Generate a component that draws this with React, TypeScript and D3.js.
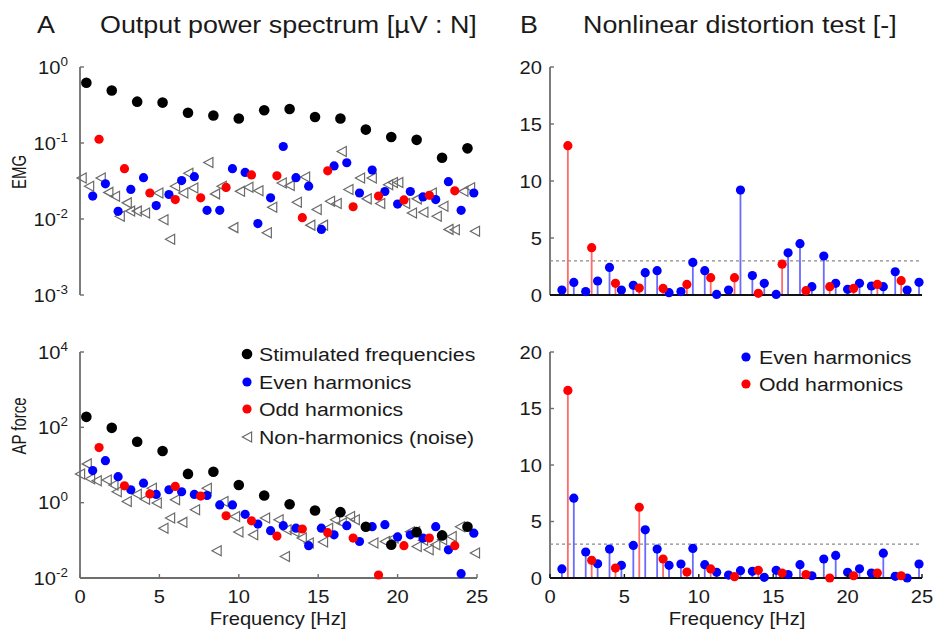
import React from "react";
import * as d3 from "d3";

// ---------- data ----------
const stimFreqs = [0.4, 2.0, 3.6, 5.2, 6.8, 8.4, 10.0, 11.6, 13.2, 14.8, 16.4, 18.0, 19.6, 21.2, 22.8, 24.4];
const evenFreqs = [0.8, 1.6, 2.4, 3.2, 4.0, 4.8, 5.6, 6.4, 7.2, 8.0, 8.8, 9.6, 10.4, 11.2, 12.0, 12.8, 13.6, 14.4, 15.2, 16.0, 16.8, 17.6, 18.4, 19.2, 20.0, 20.8, 21.6, 22.4, 23.2, 24.0, 24.8];
const oddFreqs = [1.2, 2.8, 4.4, 6.0, 7.6, 9.2, 10.8, 12.4, 14.0, 15.6, 17.2, 18.8, 20.4, 22.0, 23.6];

// EMG output power spectrum
const emgStim = [0.62, 0.49, 0.35, 0.34, 0.25, 0.23, 0.21, 0.27, 0.28, 0.22, 0.21, 0.15, 0.12, 0.11, 0.064, 0.085];
const emgEven = [0.020, 0.029, 0.0126, 0.0245, 0.035, 0.015, 0.021, 0.032, 0.036, 0.013, 0.013, 0.046, 0.041, 0.0087, 0.019, 0.090, 0.035, 0.027, 0.0073, 0.050, 0.055, 0.022, 0.044, 0.023, 0.0157, 0.023, 0.0195, 0.018, 0.031, 0.013, 0.022];
const emgOdd = [0.112, 0.046, 0.022, 0.018, 0.019, 0.026, 0.038, 0.037, 0.0104, 0.043, 0.0145, 0.020, 0.0178, 0.0205, 0.0235];
const emgNoiseFreq = [0.1, 0.57, 1.3, 1.78, 2.2, 2.5, 2.94, 3.15, 3.57, 4.09, 4.93, 5.25, 5.67, 5.98, 6.5, 6.82, 7.13, 8.08, 8.5, 8.92, 9.65, 10.07, 10.6, 11.23, 11.76, 12.1, 12.7, 13.2, 13.65, 14.17, 14.5, 14.9, 15.3, 15.74, 16.16, 16.48, 16.9, 17.63, 18.05, 18.37, 18.9, 19.4, 19.7, 20.04, 20.47, 20.9, 21.2, 21.62, 22.15, 22.46, 22.88, 23.2, 23.6, 24.14, 24.56, 24.87];
const emgNoise = [0.0347, 0.0269, 0.0347, 0.0224, 0.0199, 0.0109, 0.0163, 0.0127, 0.0127, 0.012, 0.022, 0.0098, 0.0054, 0.027, 0.022, 0.040, 0.0256, 0.0555, 0.0214, 0.027, 0.0077, 0.0231, 0.0262, 0.0236, 0.0066, 0.0143, 0.0298, 0.0275, 0.0166, 0.0357, 0.0083, 0.0133, 0.0083, 0.0171, 0.016, 0.0774, 0.0244, 0.0347, 0.0184, 0.0347, 0.016, 0.0283, 0.0303, 0.0303, 0.016, 0.012, 0.0184, 0.0123, 0.022, 0.0109, 0.0147, 0.0073, 0.0072, 0.0231, 0.0257, 0.0069];

// AP force output power spectrum
const forceStim = [190, 97, 41.5, 23.5, 5.8, 6.6, 2.95, 1.55, 0.91, 0.62, 0.56, 0.23, 0.076, 0.165, 0.135, 0.23];
const forceEven = [7.1, 13, 4.9, 2.2, 3.3, 1.65, 2.2, 1.95, 1.65, 1.55, 0.87, 0.87, 0.49, 0.27, 0.18, 0.245, 0.21, 0.072, 0.21, 0.14, 0.245, 0.093, 0.23, 0.26, 0.123, 0.14, 0.115, 0.23, 0.056, 0.013, 0.155];
const forceOdd = [29, 2.8, 1.7, 2.7, 1.5, 0.45, 0.33, 0.13, 0.20, 0.16, 0.115, 0.012, 0.072, 0.115, 0.072];
const forceNoiseFreq = [0.0, 0.42, 0.63, 1.05, 1.68, 2.1, 2.31, 2.94, 3.57, 4.09, 4.52, 4.83, 5.25, 5.67, 5.98, 6.44, 7.24, 7.98, 8.6, 9.03, 9.76, 9.97, 10.9, 11.65, 12.5, 12.9, 13.0, 13.5, 13.96, 14.4, 15.3, 15.62, 16.06, 16.48, 17.0, 17.3, 18.47, 19.2, 19.74, 20.78, 21.1, 21.2, 21.6, 21.95, 22.37, 22.8, 23.4, 23.93, 24.87];
const forceNoise = [5.8, 10.7, 4.3, 3.8, 4.0, 2.95, 1.95, 1.07, 1.68, 1.23, 2.4, 0.98, 0.21, 0.39, 1.19, 0.30, 0.65, 2.4, 0.053, 1.07, 0.43, 0.166, 0.14, 0.39, 0.35, 0.037, 0.19, 0.17, 0.115, 0.085, 0.09, 0.21, 0.35, 0.29, 0.43, 0.35, 0.085, 0.093, 0.115, 0.17, 0.17, 0.069, 0.10, 0.056, 0.076, 0.104, 0.126, 0.23, 0.046];

// Nonlinear distortion test
const nlEmgEven = [0.44, 1.1, 0.3, 1.23, 2.42, 0.44, 0.85, 1.96, 2.13, 0.2, 0.3, 2.86, 2.13, 0.05, 0.44, 9.2, 1.7, 1.02, 0.05, 3.7, 4.5, 0.73, 3.42, 1.02, 0.5, 1.02, 0.79, 0.73, 2.04, 0.44, 1.11];
const nlEmgOdd = [13.1, 4.15, 1.02, 0.61, 0.58, 0.93, 1.52, 1.52, 0.15, 2.7, 0.38, 0.73, 0.58, 0.93, 1.26];
const nlForceEven = [0.8, 7.06, 2.3, 1.26, 2.56, 1.12, 2.88, 4.26, 2.56, 1.12, 1.24, 2.62, 1.18, 0.5, 0.26, 0.65, 0.59, 0.06, 0.68, 0.3, 1.18, 0.2, 1.68, 2.0, 0.5, 0.82, 0.44, 2.2, 0.15, 0.0, 1.24];
const nlForceOdd = [16.6, 1.56, 0.88, 6.26, 1.68, 0.53, 0.8, 0.12, 0.68, 0.44, 0.3, 0.0, 0.2, 0.44, 0.2];
const nlThreshold = 3;

const freqTicks = [0, 5, 10, 15, 20, 25];
const nlTicks = [0, 5, 10, 15, 20];
const emgTicks = [-3, -2, -1, 0];
const forceTicks = [-2, 0, 2, 4];

const legendLeft = ["Stimulated frequencies", "Even harmonics", "Odd harmonics", "Non-harmonics (noise)"];
const legendRight = ["Even harmonics", "Odd harmonics"];

// ---------- styling ----------
const FONT = '"Liberation Sans", Arial, Helvetica, sans-serif';
const SX = 1.12;
const BLUE = "#0000ff";
const RED = "#ff0000";
const BLUE_STEM = "#6a6aff";
const RED_STEM = "#ff6a6a";
const AXIS = "#6e6e6e";
const TXT = "#1a1a1a";
const TRI = "#6a6a6a";

function T({ x, y, size, anchor = "start", children, rotate = false, sy = 1 }: any) {
  const tr = rotate
    ? `translate(${x},${y}) rotate(-90) scale(1,${SX * sy})`
    : `translate(${x},${y}) scale(${SX},1)`;
  return (
    <text transform={tr} fontSize={size} textAnchor={anchor} fill={TXT} fontFamily={FONT}>
      {children}
    </text>
  );
}

function Tri({ x, y }: { x: number; y: number }) {
  const w = 4.6, h = 5;
  return (
    <path d={`M${x + w},${y - h} L${x - w},${y} L${x + w},${y + h} Z`} fill="none" stroke={TRI} strokeWidth={1.2} />
  );
}

function PowerPanel({ yScale, ticks, stim, even, odd, noiseF, noise, bottom, label, labelY }: any) {
  const x = d3.scaleLinear().domain([0, 25]).range([80, 477]);
  const [y0, y1] = yScale.range();
  return (
    <g>
      <line x1={80} x2={80} y1={y1} y2={y0} stroke={AXIS} strokeWidth={1.8} />
      {ticks.map((e: number) => (
        <g key={e}>
          <line x1={80} x2={84} y1={yScale(Math.pow(10, e))} y2={yScale(Math.pow(10, e))} stroke={AXIS} strokeWidth={1.4} />
          <text transform={`translate(68,${yScale(Math.pow(10, e)) + 6.5}) scale(${SX},1)`} fontSize={18} textAnchor="end" fill={TXT} fontFamily={FONT}>
            10<tspan dy={-8} fontSize={12}>{e}</tspan>
          </text>
        </g>
      ))}
      <T x={26} y={labelY} size={15} anchor="middle" rotate sy={1.15}>{label}</T>
      {bottom && (
        <g>
          <line x1={80} x2={477} y1={y0} y2={y0} stroke={AXIS} strokeWidth={1.8} />
          {freqTicks.map((t) => (
            <g key={t}>
              <line x1={x(t)} x2={x(t)} y1={y0} y2={y0 - 4} stroke={AXIS} strokeWidth={1.4} />
              <T x={x(t)} y={603} size={18} anchor="middle">{t}</T>
            </g>
          ))}
          <T x={278} y={625} size={18} anchor="middle">Frequency [Hz]</T>
        </g>
      )}
      {noiseF.map((f: number, i: number) => (
        <Tri key={"n" + i} x={x(f)} y={yScale(noise[i])} />
      ))}
      {evenFreqs.map((f, i) => (
        <circle key={"e" + i} cx={x(f)} cy={yScale(even[i])} r={4.6} fill={BLUE} />
      ))}
      {oddFreqs.map((f, i) => (
        <circle key={"o" + i} cx={x(f)} cy={yScale(odd[i])} r={4.6} fill={RED} />
      ))}
      {stimFreqs.map((f, i) => (
        <circle key={"s" + i} cx={x(f)} cy={yScale(stim[i])} r={5.3} fill="#000" />
      ))}
    </g>
  );
}

function NlPanel({ yScale, even, odd, bottom }: any) {
  const x = d3.scaleLinear().domain([0, 25]).range([550, 922]);
  const [y0, y1] = yScale.range();
  return (
    <g>
      <line x1={550} x2={550} y1={y1} y2={y0} stroke={AXIS} strokeWidth={1.8} />
      {nlTicks.map((t) => (
        <g key={t}>
          <line x1={550} x2={554} y1={yScale(t)} y2={yScale(t)} stroke={AXIS} strokeWidth={1.4} />
          <T x={542} y={yScale(t) + 6.5} size={18} anchor="end">{t}</T>
        </g>
      ))}
      <line x1={550} x2={922} y1={yScale(nlThreshold)} y2={yScale(nlThreshold)} stroke="#8a8a8a" strokeWidth={1.2} strokeDasharray="3,3" />
      {evenFreqs.map((f, i) => (
        <line key={"es" + i} x1={x(f)} x2={x(f)} y1={yScale(0)} y2={yScale(even[i])} stroke={BLUE_STEM} strokeWidth={1.8} />
      ))}
      {oddFreqs.map((f, i) => (
        <line key={"os" + i} x1={x(f)} x2={x(f)} y1={yScale(0)} y2={yScale(odd[i])} stroke={RED_STEM} strokeWidth={1.8} />
      ))}
      <line x1={550} x2={922} y1={y0} y2={y0} stroke="#111" strokeWidth={2} />
      {evenFreqs.map((f, i) => (
        <circle key={"e" + i} cx={x(f)} cy={yScale(even[i])} r={4.6} fill={BLUE} />
      ))}
      {oddFreqs.map((f, i) => (
        <circle key={"o" + i} cx={x(f)} cy={yScale(odd[i])} r={4.6} fill={RED} />
      ))}
      {bottom && (
        <g>
          {freqTicks.map((t) => (
            <g key={t}>
              <line x1={x(t)} x2={x(t)} y1={y0} y2={y0 - 4} stroke="#111" strokeWidth={1.4} />
              <T x={x(t)} y={603} size={18} anchor="middle">{t}</T>
            </g>
          ))}
          <T x={737} y={625} size={18} anchor="middle">Frequency [Hz]</T>
        </g>
      )}
    </g>
  );
}

export default function App() {
  const yEmg = d3.scaleLog().domain([1e-3, 1]).range([295, 67]);
  const yForce = d3.scaleLog().domain([1e-2, 1e4]).range([578, 352]);
  const yNlTop = d3.scaleLinear().domain([0, 20]).range([295, 67]);
  const yNlBot = d3.scaleLinear().domain([0, 20]).range([578, 352]);
  const legRowsL = [354, 382, 409, 437];
  const legRowsR = [357, 384];
  return (
    <svg width={938} height={634} style={{ position: "absolute", left: 0, top: 0, background: "#fff" }}>
      <rect width={938} height={634} fill="#fff" />
      <T x={37} y={33} size={24}>A</T>
      <T x={100} y={33} size={24}>Output power spectrum [µV : N]</T>
      <T x={520} y={33} size={24}>B</T>
      <T x={583} y={33} size={24}>Nonlinear distortion test [-]</T>

      <PowerPanel yScale={yEmg} ticks={emgTicks} stim={emgStim} even={emgEven} odd={emgOdd}
        noiseF={emgNoiseFreq} noise={emgNoise} bottom={false} label="EMG" labelY={172} />
      <PowerPanel yScale={yForce} ticks={forceTicks} stim={forceStim} even={forceEven} odd={forceOdd}
        noiseF={forceNoiseFreq} noise={forceNoise} bottom={true} label="AP force" labelY={426} />

      <NlPanel yScale={yNlTop} even={nlEmgEven} odd={nlEmgOdd} bottom={false} />
      <NlPanel yScale={yNlBot} even={nlForceEven} odd={nlForceOdd} bottom={true} />

      {/* legend left */}
      <circle cx={247} cy={legRowsL[0]} r={5.3} fill="#000" />
      <circle cx={247} cy={legRowsL[1]} r={4.6} fill={BLUE} />
      <circle cx={247} cy={legRowsL[2]} r={4.6} fill={RED} />
      <Tri x={247} y={legRowsL[3]} />
      {legendLeft.map((s, i) => (
        <T key={s} x={259} y={legRowsL[i] + 6.8} size={19}>{s}</T>
      ))}
      {/* legend right */}
      <circle cx={746} cy={legRowsR[0]} r={4.6} fill={BLUE} />
      <circle cx={746} cy={legRowsR[1]} r={4.6} fill={RED} />
      {legendRight.map((s, i) => (
        <T key={s} x={759} y={legRowsR[i] + 6.8} size={19}>{s}</T>
      ))}
    </svg>
  );
}
